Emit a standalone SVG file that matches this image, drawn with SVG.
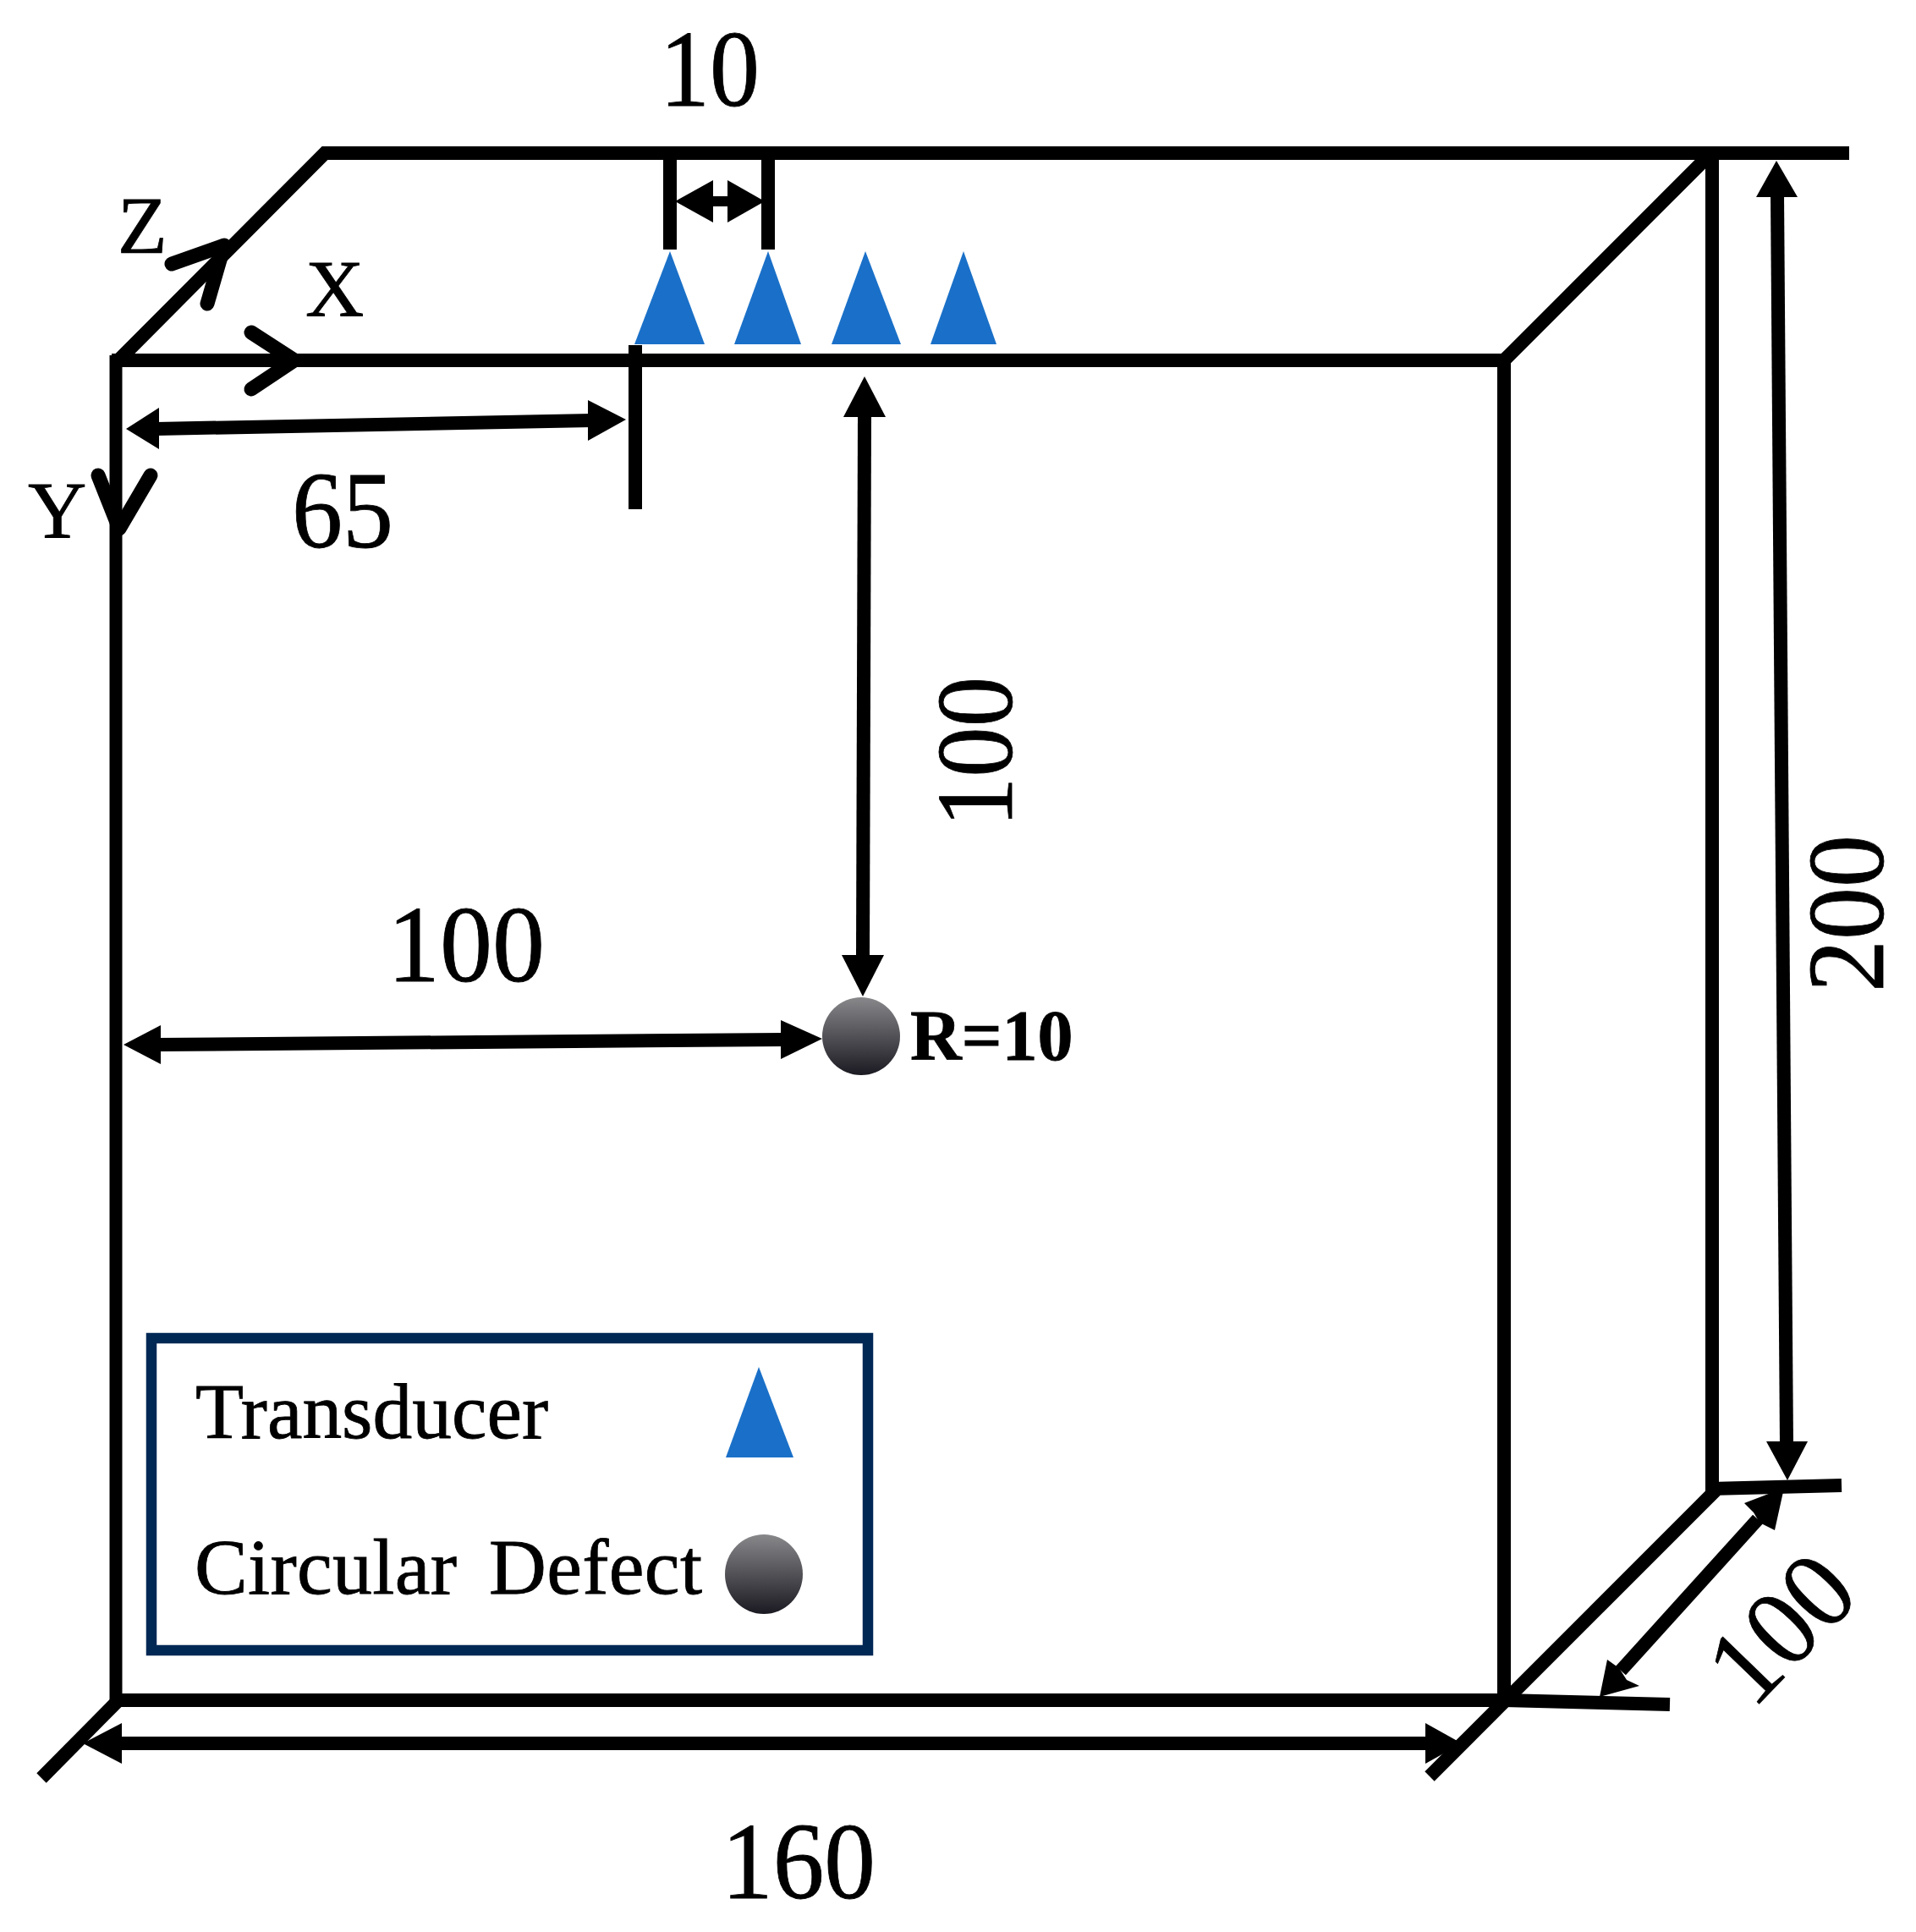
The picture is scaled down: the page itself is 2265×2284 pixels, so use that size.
<svg xmlns="http://www.w3.org/2000/svg" width="2265" height="2284" viewBox="0 0 2265 2284">
<style>
.ln{stroke:#000;stroke-width:16;fill:none;stroke-linecap:butt}
.sh{stroke:#000;stroke-width:16;fill:none}
.ax{stroke:#000;stroke-width:17;fill:none;stroke-linecap:round;stroke-linejoin:round}
.hd{fill:#000}
.tri{fill:#1a70c8}
.t{font-family:"Liberation Serif","Times New Roman",serif;fill:#000;stroke:#000;stroke-width:.8}
.d{font-size:130px}
.a{font-size:96px}
.l{font-size:94px}
.b{font-size:84px;font-weight:bold}
</style>
<defs>
<linearGradient id="g" x1="0" y1="0" x2="0" y2="1"><stop offset="0" stop-color="#88888b"/><stop offset="1" stop-color="#1b1a22"/></linearGradient>
</defs>
<rect width="2265" height="2284" fill="#fff"/>
<g id="block">
<path class="ln" d="M132 426H1786"/>
<path class="ln" style="stroke-width:15" d="M137 420V2018"/>
<path class="ln" d="M130 2010H1778"/>
<path class="ln" d="M1778 426V2018"/>
<path class="ln" d="M2024 176V1768"/>
<path class="ln" d="M142 424L384 181H2186"/>
<path class="ln" d="M1778 426L2020 184"/>
<path class="ln" d="M2024 1760L2177 1756"/>
<path class="ln" d="M1778 2010L1974 2015"/>
<path class="ln" d="M2028 1762L1690 2100"/>
<path class="ln" d="M142 2008L49 2102"/>
</g>
<g id="connectors">
<path class="ln" d="M792 181V295M908 181V295M751 408V602"/>
<path class="sh" style="stroke-width:12" d="M840 238H866"/>
<polygon class="hd" points="798,238 843,213 843,263"/>
<polygon class="hd" points="904,238 860,213 860,263"/>
<path class="sh" d="M185 507L700 497"/>
<polygon class="hd" points="149,507 188,482 188,531"/>
<polygon class="hd" points="740,496 695,473 695,521"/>
<path class="sh" d="M1022 490L1020 1132"/>
<polygon class="hd" points="1022,445 997,493 1047,493"/>
<polygon class="hd" points="1020,1178 995,1129 1045,1129"/>
<path class="sh" d="M185 1235L926 1229"/>
<polygon class="hd" points="146,1235 190,1212 190,1258"/>
<polygon class="hd" points="972,1228 923,1206 923,1252"/>
<path class="sh" d="M140 2061H1690"/>
<polygon class="hd" points="98,2061 144,2037 144,2085"/>
<polygon class="hd" points="1728,2061 1685,2037 1685,2085"/>
<path class="sh" d="M2101 228L2112 1708"/>
<polygon class="hd" points="2100,190 2076,233 2125,233"/>
<polygon class="hd" points="2113,1750 2088,1704 2137,1704"/>
<path class="sh" d="M2078 1796L1916 1975"/>
<polygon class="hd" points="2109,1759 2062,1777 2073,1788 2080,1800 2098,1809"/>
<polygon class="hd" points="1891,2006 1900,1962 1914,1972 1923,1986 1938,1993"/>
</g>
<g id="axes">
<path class="ax" d="M203 312L265 290L245 359"/>
<path class="ax" d="M297 393L348 426L297 460"/>
<path class="ax" d="M116 562L141 625L178 562"/>
<text class="t a" x="139" y="299">Z</text>
<text class="t a" x="361" y="374">X</text>
<text class="t a" x="33" y="636">Y</text>
</g>
<g id="transducers">
<polygon class="tri" points="792,297 750,407 833,407"/>
<polygon class="tri" points="908,297 868,407 947,407"/>
<polygon class="tri" points="1023,297 983,407 1065,407"/>
<polygon class="tri" points="1139,297 1100,407 1178,407"/>
</g>
<g id="defect">
<circle cx="1018" cy="1225" r="46" fill="url(#g)"/>
<text class="t b" x="1076" y="1253">R=10</text>
</g>
<g id="labels">
<text class="t d" x="780" y="125" textLength="118" lengthAdjust="spacingAndGlyphs">10</text>
<text class="t d" x="345" y="647" textLength="120" lengthAdjust="spacingAndGlyphs">65</text>
<text class="t d" x="0" y="0" textLength="178" lengthAdjust="spacingAndGlyphs" transform="translate(1196 978) rotate(-90)">100</text>
<text class="t d" x="458" y="1160" textLength="186" lengthAdjust="spacingAndGlyphs">100</text>
<text class="t d" x="0" y="0" textLength="186" lengthAdjust="spacingAndGlyphs" transform="translate(2226 1173) rotate(-90)">200</text>
<text class="t d" x="853" y="2244" textLength="182" lengthAdjust="spacingAndGlyphs">160</text>
<text class="t d" x="0" y="0" textLength="186" lengthAdjust="spacingAndGlyphs" transform="translate(2072 2022) rotate(-46)">100</text>
</g>
<g id="legend">
<rect x="179" y="1582" width="847" height="369" fill="none" stroke="#002855" stroke-width="12.5"/>
<text class="t l" x="231" y="1700" textLength="417" lengthAdjust="spacingAndGlyphs">Transducer</text>
<polygon class="tri" points="897,1616 858,1723 938,1723"/>
<text class="t l" x="230" y="1884" word-spacing="14" textLength="600" lengthAdjust="spacing">Circular Defect</text>
<ellipse cx="903" cy="1861" rx="46" ry="47" fill="url(#g)"/>
</g>
</svg>
